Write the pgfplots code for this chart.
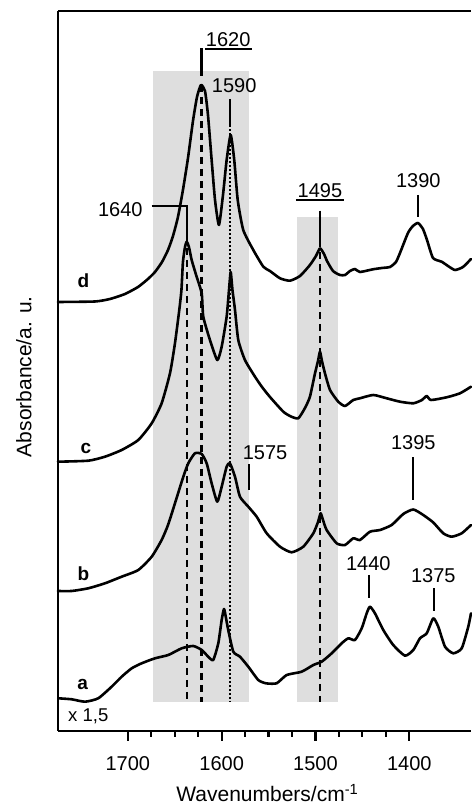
\documentclass[border=0pt]{standalone}
\usepackage{fontspec}
\setmainfont{Liberation Sans}
\usepackage{pgfplots}
\pgfplotsset{compat=1.18}
\tikzset{
  curve/.style={black, line width=2.6pt, line join=round, line cap=round, smooth, tension=0.35},
  mk/.style={black, line width=2.2pt},
  lab/.style={anchor=base, inner sep=0pt, font=\fontsize{20}{24}\selectfont},
  dsh/.style={black, line width=2.2pt, dash pattern=on 7.5pt off 4.5pt},
  trace/.style={anchor=base, inner sep=0pt, font=\fontsize{19}{22}\selectfont\bfseries},
}

\begin{document}
\begin{tikzpicture}
\useasboundingbox (0,0) rectangle (471pt,805pt);
\begin{axis}[
  at={(58pt,74pt)}, anchor=south west,
  width=413pt, height=720pt, scale only axis,
  x dir=reverse,
  xmin=1334.2, xmax=1774.5,
  ymin=0, ymax=720,
  axis x line=box, axis y line=left,
  x axis line style={-}, y axis line style={-},
  axis line style={line width=2.2pt},
  xtick={1400,1500,1600,1700},
  xticklabels={1400,1500,1600,1700},
  minor x tick num=3,
  xtick pos=left,
  ytick=\empty,
  tick align=outside,
  major tick length=10pt, minor tick length=6pt,
  every tick/.style={line width=2.2pt, black},
  xticklabel style={font=\fontsize{20}{24}\selectfont, anchor=base, yshift=-30pt},
  every axis x label/.style={at={(axis description cs:0.507,0)}, anchor=base, yshift=-70.7pt},
  every axis y label/.style={at={(axis description cs:-0.0642,0.492)}, rotate=90, anchor=base},
  label style={font=\fontsize{21}{25}\selectfont},
  xlabel={Wavenumbers/cm\textsuperscript{-1}},
  ylabel={Absorbance/a. u.},
  clip=false,
]

% shaded bands
\fill[black!13] (axis cs:1673.6,29) rectangle (axis cs:1570.6,660);
\fill[black!13] (axis cs:1520,29) rectangle (axis cs:1475.7,514.3);

% dashed / dotted guides
\addplot[dsh] coordinates {(1637.3,495) (1637.3,29)};
\addplot[dsh] coordinates {(1621.5,646) (1621.5,29)};
\addplot[black, line width=2pt, dash pattern=on 2pt off 2pt] coordinates {(1590.8,606) (1590.8,29)};
\addplot[dsh] coordinates {(1494.8,491) (1494.8,29)};

% spectra
\addplot[curve] coordinates {
(1774.5,429) (1735.1,429.5) (1719.1,432) (1703.1,437) (1689.2,444) (1678.6,452) (1671.1,459) (1663.6,469) (1657.2,481) (1651.9,495) (1646.6,514) (1641.3,541) (1635.9,573) (1630.6,610) (1626.3,634) (1622.1,646) (1617.8,640) (1614.6,616) (1610.7,571) (1607.1,531) (1602.9,506) (1598.6,536) (1594.7,571) (1590.4,596) (1586.6,571) (1582.9,531) (1577,501) (1566.3,481) (1555.6,464.3) (1548.5,460) (1537.8,452.7) (1527.2,450.3) (1516.5,455) (1505.9,466) (1499.5,475) (1495.2,482.7) (1490.9,477) (1487.7,470) (1481.3,460) (1473.9,456) (1468.5,456) (1463.2,460) (1457.9,462) (1452.6,459) (1438.7,461.7) (1429.1,463) (1420.6,464) (1414.2,469) (1409.9,478) (1401.4,498) (1396.1,505) (1390.7,508) (1385.4,502) (1381.1,491) (1374.7,473) (1365.5,469.3) (1358.7,465) (1351.3,461) (1342.7,464) (1334.2,472)
};
\addplot[curve] coordinates {
(1774.5,269.3) (1742.2,270.3) (1724.4,274.3) (1706.6,281) (1688.9,291) (1674.6,307.7) (1664,327.7) (1655.1,357.7) (1649.8,387.7) (1645.2,421) (1642.9,441) (1641.3,469) (1639.1,484) (1637.3,489.3) (1634.9,484) (1632,471) (1626.7,454.3) (1621.3,437.7) (1619.6,414.3) (1612.5,391) (1604.7,371) (1600,384.3) (1594.7,414.3) (1592.2,441) (1590.4,459) (1588.5,441) (1585.8,421) (1582.3,391) (1575.2,371) (1564.5,354.3) (1557,344) (1548.5,334) (1534.3,319.3) (1526.1,314.5) (1518.3,312.7) (1511.2,323) (1505.9,334.3) (1500.5,357.7) (1497.3,370) (1495.2,379.3) (1493.1,370) (1489.9,357.7) (1484.5,341) (1475.7,329.3) (1468.5,325) (1459.7,331) (1452.6,332.7) (1438.4,336) (1424.1,332.7) (1409.9,329.3) (1395.7,327.7) (1386.5,331) (1381.4,335) (1376.9,331) (1360.1,333.7) (1345.9,337.7) (1334.2,344.3)
};
\addplot[curve] coordinates {
(1774.5,140) (1759.9,140) (1742.2,142.7) (1724.4,147.7) (1706.6,154.3) (1688.9,161) (1674.6,174.3) (1664,191) (1657.2,206) (1649.8,227.7) (1640.9,254.3) (1635.6,267.7) (1628.5,277.7) (1621.3,277) (1616,267.7) (1610.7,247.7) (1604.7,229.3) (1600,244.3) (1594.7,264.3) (1591.2,267.7) (1585.8,254.3) (1580.5,234.3) (1571.6,224.3) (1562.7,214.3) (1552,197.7) (1537.8,184.3) (1525.4,178.7) (1513,184.3) (1502.3,197.7) (1497.3,209) (1494.5,217.7) (1492,211) (1488.1,201) (1477.4,187.7) (1468.5,186) (1459.7,192.7) (1452.6,191) (1441.9,199.3) (1431.2,201) (1418.8,206) (1406.4,217) (1395.7,221.5) (1385.1,216) (1374.4,208.5) (1363.8,197.7) (1354.8,194.3) (1344.1,197.7) (1334.2,206)
};
\addplot[curve] coordinates {
(1774.2,32.7) (1759.9,31.7) (1745.7,29.3) (1731.6,32.7) (1717.3,44.3) (1706.6,54.3) (1695.9,62.7) (1685.3,67.7) (1671.1,72.7) (1656.9,76) (1642.6,82.7) (1630.3,85) (1621.3,81) (1614.3,74.3) (1609,71) (1603.6,87.7) (1600,111) (1597.5,122) (1595.4,113) (1593,101) (1587.6,79.3) (1580.5,74.3) (1571.6,64.3) (1561,51) (1552.8,47.7) (1541.4,47.7) (1530.7,56) (1514.7,59.3) (1502.3,66) (1493.4,69.3) (1482.7,77.7) (1472.1,87.7) (1465,92.7) (1457.9,91) (1450.7,102.7) (1445.4,117.7) (1441.9,124.3) (1436.6,117.7) (1427.7,101) (1417.1,86) (1404.6,75.3) (1395.7,81) (1388.6,92.7) (1381.4,97.7) (1374.4,112.7) (1369.1,104.3) (1361.9,84.3) (1353.1,77.7) (1344.1,82.7) (1337.1,104.3) (1334.2,117.7)
};

% peak markers
\draw[mk] (axis cs:1674.6,525.3) -- (axis cs:1637.3,525.3) -- (axis cs:1637.3,495);
\draw[mk] (axis cs:1621.5,655) -- (axis cs:1621.5,683);
\draw[mk] (axis cs:1617.8,681.7) -- (axis cs:1567.7,681.7);
\draw[mk] (axis cs:1591.2,632) -- (axis cs:1591.2,606);
\draw[mk] (axis cs:1495,520.3) -- (axis cs:1495,491);
\draw[mk] (axis cs:1520.8,531) -- (axis cs:1469.6,531);
\draw[mk] (axis cs:1390.4,536) -- (axis cs:1390.4,514);
\draw[mk] (axis cs:1570.6,267) -- (axis cs:1570.6,241);
\draw[mk] (axis cs:1395.7,273.7) -- (axis cs:1395.7,231);
\draw[mk] (axis cs:1442.6,156) -- (axis cs:1442.6,132.7);
\draw[mk] (axis cs:1373.4,142.7) -- (axis cs:1373.4,120.3);

% peak labels
\node[lab] at (axis cs:1593,684.3) {1620};
\node[lab] at (axis cs:1586.6,638.7) {1590};
\node[lab] at (axis cs:1708.1,514.3) {1640};
\node[lab] at (axis cs:1495.2,533.7) {1495};
\node[lab] at (axis cs:1390.4,543.7) {1390};
\node[lab] at (axis cs:1553.8,271) {1575};
\node[lab] at (axis cs:1395.7,281) {1395};
\node[lab] at (axis cs:1443.7,160.3) {1440};
\node[lab] at (axis cs:1374.4,148.3) {1375};

% trace letters
\node[trace] at (axis cs:1747.5,443) {d};
\node[trace] at (axis cs:1744.7,277) {c};
\node[trace] at (axis cs:1747.5,150.3) {b};
\node[trace] at (axis cs:1748.2,41) {a};
\node[lab, font=\fontsize{18.5}{22}\selectfont] at (axis cs:1742.2,9.3) {x 1,5};

\end{axis}
\end{tikzpicture}
\end{document}
